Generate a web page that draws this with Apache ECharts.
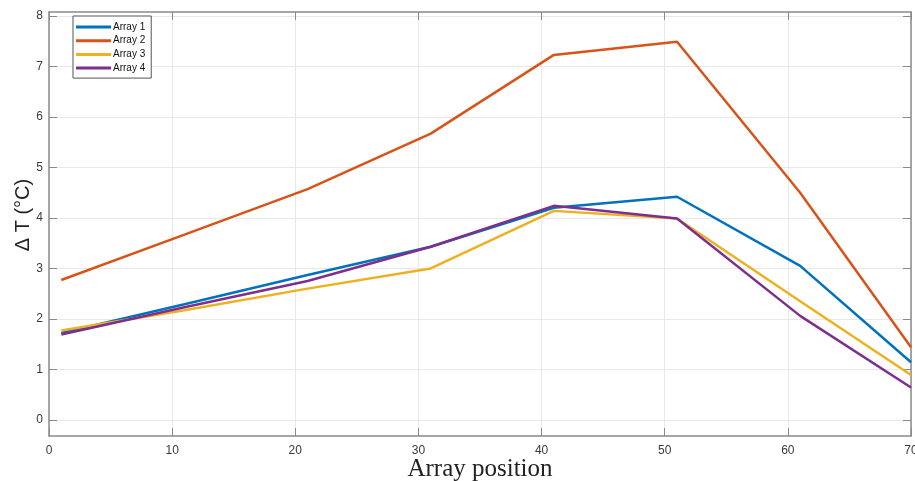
<!DOCTYPE html>
<html>
<head>
<meta charset="utf-8">
<script src="https://cdn.jsdelivr.net/npm/echarts@6/dist/echarts.min.js"></script>
<style>
  html, body { margin: 0; padding: 0; background: #fff; }
  #chart { width: 915px; height: 481px; }
</style>
</head>
<body>
<div id="chart"></div>
<script>
  // array positions along the x axis
  const positions = [1, 11, 21, 31, 41, 51, 61, 70]
  // temperature rise per array
  const array1 = [1.72, 2.29, 2.87, 3.43, 4.20, 4.42, 3.05, 1.14]
  const array2 = [2.77, 3.67, 4.57, 5.67, 7.23, 7.49, 4.50, 1.44]
  const array3 = [1.77, 2.17, 2.60, 3.00, 4.14, 3.99, 2.35, 0.89]
  const array4 = [1.69, 2.23, 2.75, 3.43, 4.24, 3.99, 2.06, 0.64]
  const seriesNames = ['Array 1', 'Array 2', 'Array 3', 'Array 4']
  const yTicks = [0, 1, 2, 3, 4, 5, 6, 7, 8]

  const colors = ['#0072BD', '#D95319', '#EDB120', '#7E2F8E']
  const axisGray = '#8a8a8a'
  const gridGray = '#e8e8e8'
  const labelColor = '#3a3a3a'

  const toPairs = (vals) => positions.map((x, i) => [x, vals[i]])
  const allArrays = [array1, array2, array3, array4]

  const chart = echarts.init(document.getElementById('chart'), null, { renderer: 'canvas' })

  const option = {
    animation: false,
    color: colors,
    textStyle: { fontFamily: 'Liberation Sans, Arial, sans-serif' },
    grid: { left: 49, right: 4, top: 12, bottom: 45, containLabel: false, outerBoundsMode: 'none' },
    legend: {
      orient: 'vertical',
      left: 73,
      top: 16,
      padding: [6, 6, 5, 3],
      backgroundColor: '#fff',
      borderColor: '#555',
      borderWidth: 1,
      borderRadius: 0,
      itemWidth: 35,
      itemHeight: 3,
      itemGap: 3.7,
      icon: 'rect',
      textStyle: { fontSize: 10, color: '#111', padding: [0, 0, 0, -3] },
      data: seriesNames
    },
    xAxis: [
      {
        type: 'value',
        min: 0,
        max: 70,
        interval: 10,
        name: 'Array position',
        nameLocation: 'middle',
        nameGap: 21,
        nameMoveOverlap: false,
        nameTextStyle: { fontFamily: 'Liberation Serif, Times New Roman, serif', fontSize: 25, color: '#222', verticalAlign: 'top' },
        axisLine: { show: true, onZero: false, lineStyle: { color: axisGray, width: 1.5 } },
        axisTick: { show: true, inside: true, length: 8, lineStyle: { color: axisGray } },
        axisLabel: { color: labelColor, fontSize: 12, margin: 9 },
        splitLine: { show: true, lineStyle: { color: gridGray, width: 1 } }
      },
      {
        type: 'value',
        position: 'top',
        min: 0,
        max: 70,
        interval: 10,
        axisLine: { show: true, onZero: false, lineStyle: { color: axisGray, width: 1.5 } },
        axisTick: { show: true, inside: true, length: 8, lineStyle: { color: axisGray } },
        axisLabel: { show: false },
        splitLine: { show: false }
      }
    ],
    yAxis: [
      {
        type: 'value',
        min: -0.32,
        max: 8.08,
        name: 'Δ T (°C)',
        nameLocation: 'middle',
        nameGap: 16,
        nameMoveOverlap: false,
        nameTextStyle: { fontSize: 20, color: '#222', padding: [0, 0, 0, 18] },
        axisLine: { show: true, onZero: false, lineStyle: { color: axisGray, width: 1.5 } },
        axisTick: { show: true, inside: true, length: 8, customValues: yTicks, lineStyle: { color: axisGray } },
        axisLabel: { color: labelColor, fontSize: 12, margin: 6, customValues: yTicks },
        splitLine: { show: true, lineStyle: { color: gridGray, width: 1 } }
      },
      {
        type: 'value',
        position: 'right',
        min: -0.32,
        max: 8.08,
        axisLine: { show: true, onZero: false, lineStyle: { color: axisGray, width: 1.5 } },
        axisTick: { show: true, inside: true, length: 8, customValues: yTicks, lineStyle: { color: axisGray } },
        axisLabel: { show: false, customValues: yTicks },
        splitLine: { show: false }
      }
    ],
    series: allArrays.map((vals, i) => ({
      name: seriesNames[i],
      type: 'line',
      data: toPairs(vals),
      showSymbol: false,
      symbol: 'none',
      lineStyle: { width: 2.5 },
      z: 3 + i
    }))
  }

  chart.setOption(option)
  window.addEventListener('resize', () => {
    chart.resize()
  })
</script>
</body>
</html>
